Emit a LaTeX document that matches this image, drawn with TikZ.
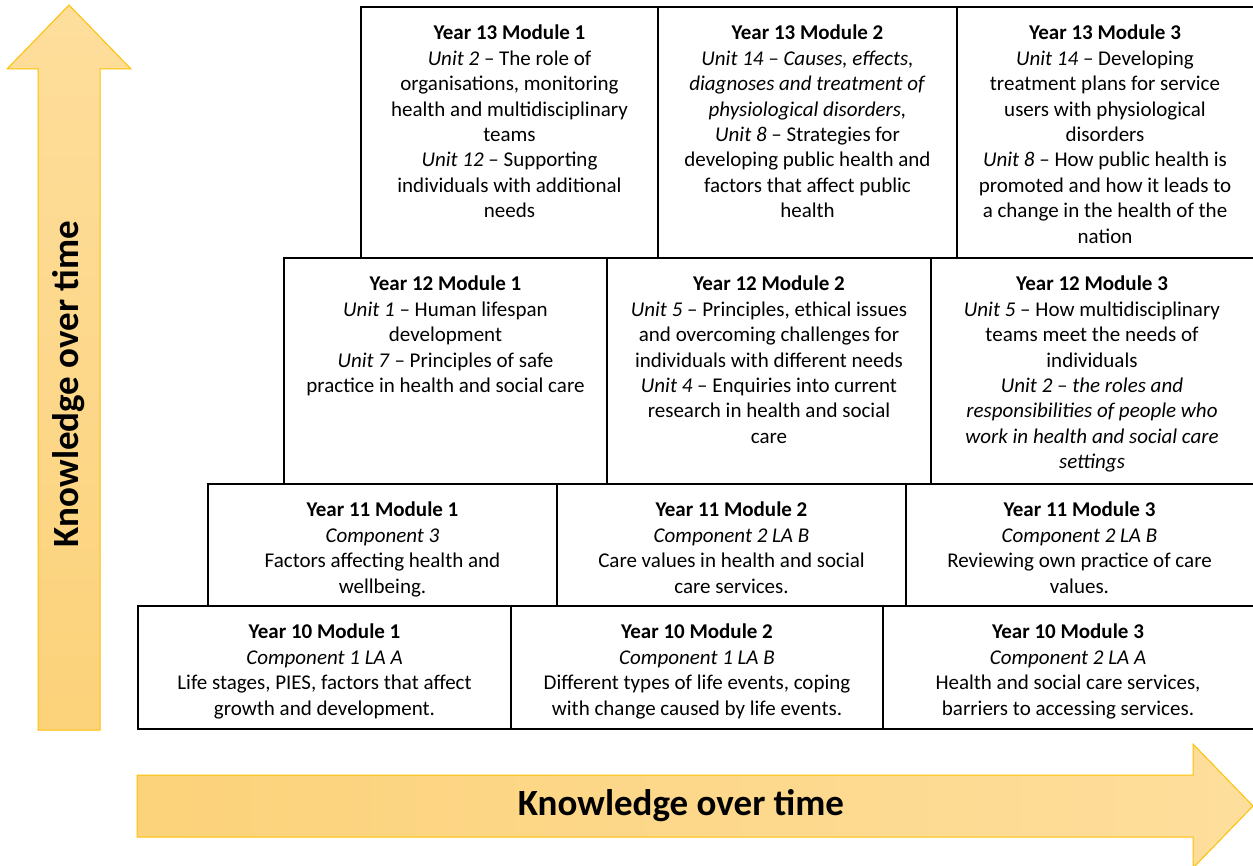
\documentclass[tikz,border=0pt]{standalone}
\usepackage{fontspec}
\setmainfont{Carlito}
\definecolor{arrowlight}{RGB}{254,222,156}
\definecolor{arrowdark}{RGB}{252,210,122}
\definecolor{arrowedge}{RGB}{255,192,0}
\begin{document}
\begin{tikzpicture}[x=1pt,y=-1pt,
  cell/.style={draw=black,line width=2pt},
  txt/.style={anchor=north,align=center,inner sep=0pt,font=\fontsize{21}{25.4}\selectfont},
  bigarrow/.style={draw=arrowedge,line width=1pt},
  title/.style={inner sep=0pt,font=\bfseries\fontsize{37}{40}\selectfont}]
\clip (0,0) rectangle (1253,866);
\fill[white] (0,0) rectangle (1253,866);

% arrows
\shade[bigarrow,top color=arrowlight,bottom color=arrowdark]
  (38,730) -- (38,69) -- (7,69) -- (69,5) -- (131,69) -- (100,69) -- (100,730) -- cycle;
\shade[bigarrow,left color=arrowdark,right color=arrowlight]
  (137,775) -- (1193,775) -- (1193,744) -- (1253,806) -- (1193,868) -- (1193,837) -- (137,837) -- cycle;
\node[title,rotate=90] (vtitle) at (69,384) {Knowledge over time};
\node[title] (htitle) at (681,806) {Knowledge over time};

% cells
\draw[cell] (361,7) rectangle (658,258);
\draw[cell] (658,7) rectangle (957,258);
\draw[cell] (957,7) rectangle (1262,258);
\draw[cell] (284,258) rectangle (607,484);
\draw[cell] (607,258) rectangle (931,484);
\draw[cell] (931,258) rectangle (1262,484);
\draw[cell] (208,484) rectangle (557,606);
\draw[cell] (557,484) rectangle (906,606);
\draw[cell] (906,484) rectangle (1262,606);
\draw[cell] (138,606) rectangle (511,729);
\draw[cell] (511,606) rectangle (883,729);
\draw[cell] (883,606) rectangle (1262,729);

% texts
\node[txt] (y13a) at (509.5,25) {\textbf{Year 13 Module 1}\\\textit{Unit 2} – The role of\\organisations, monitoring\\health and multidisciplinary\\teams\\\textit{Unit 12} – Supporting\\individuals with additional\\needs};
\node[txt] (y13b) at (807.5,25) {\textbf{Year 13 Module 2}\\\textit{Unit 14 – Causes, effects,}\\\textit{diagnoses and treatment of}\\\textit{physiological disorders,}\\\textit{Unit 8} – Strategies for\\developing public health and\\factors that affect public\\health};
\node[txt] (y13c) at (1105,25) {\textbf{Year 13 Module 3}\\\textit{Unit 14} – Developing\\treatment plans for service\\users with physiological\\disorders\\\textit{Unit 8} – How public health is\\promoted and how it leads to\\a change in the health of the\\nation};

\node[txt] (y12a) at (445.5,276) {\textbf{Year 12 Module 1}\\\textit{Unit 1} – Human lifespan\\development\\\textit{Unit 7} – Principles of safe\\practice in health and social care};
\node[txt] (y12b) at (769,276) {\textbf{Year 12 Module 2}\\\textit{Unit 5} – Principles, ethical issues\\and overcoming challenges for\\individuals with different needs\\\textit{Unit 4} – Enquiries into current\\research in health and social\\care};
\node[txt] (y12c) at (1092,276) {\textbf{Year 12 Module 3}\\\textit{Unit 5} – How multidisciplinary\\teams meet the needs of\\individuals\\\textit{Unit 2 – the roles and}\\\textit{responsibilities of people who}\\\textit{work in health and social care}\\\textit{settings}};

\node[txt] (y11a) at (382.5,502) {\textbf{Year 11 Module 1}\\\textit{Component 3}\\Factors affecting health and\\wellbeing.};
\node[txt] (y11b) at (731.5,502) {\textbf{Year 11 Module 2}\\\textit{Component 2 LA B}\\Care values in health and social\\care services.};
\node[txt] (y11c) at (1079.5,502) {\textbf{Year 11 Module 3}\\\textit{Component 2 LA B}\\Reviewing own practice of care\\values.};

\node[txt] (y10a) at (324.5,624) {\textbf{Year 10 Module 1}\\\textit{Component 1 LA A}\\Life stages, PIES, factors that affect\\growth and development.};
\node[txt] (y10b) at (697,624) {\textbf{Year 10 Module 2}\\\textit{Component 1 LA B}\\Different types of life events, coping\\with change caused by life events.};
\node[txt] (y10c) at (1068,624) {\textbf{Year 10 Module 3}\\\textit{Component 2 LA A}\\Health and social care services,\\barriers to accessing services.};
\end{tikzpicture}
\end{document}
